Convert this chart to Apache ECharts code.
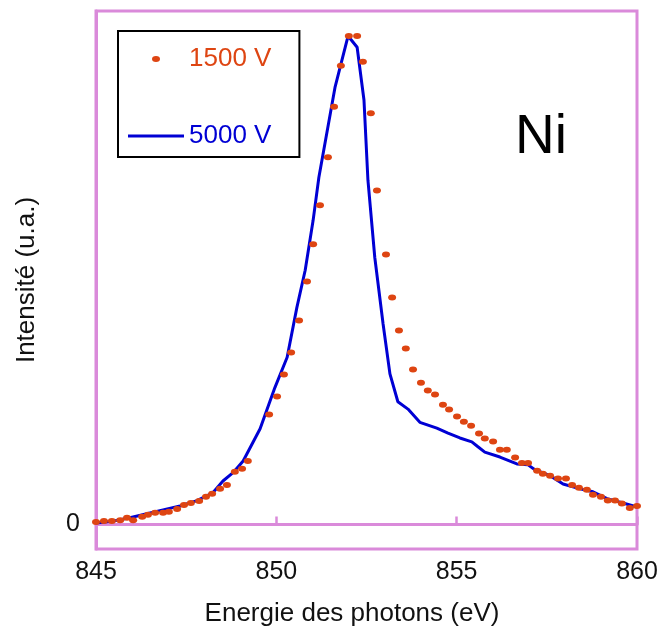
<!DOCTYPE html>
<html>
<head>
<meta charset="utf-8">
<script src="https://cdn.jsdelivr.net/npm/echarts@6/dist/echarts.min.js"></script>
<style>
  html, body { margin: 0; padding: 0; background: #ffffff; }
  #chart { width: 657px; height: 630px; }
</style>
</head>
<body>
<div id="chart"></div>
<script>
// Ni spectrum, two accelerating voltages (normalised intensity, arbitrary units)
const seriesNames = ['1500 V', '5000 V'];

const energy1500 = [
  845.00, 845.22, 845.44, 845.67, 845.86, 846.03, 846.28, 846.44, 846.64, 846.86,
  847.02, 847.25, 847.44, 847.63, 847.86, 848.05, 848.22, 848.44, 848.63, 848.85,
  849.05, 849.21, 849.80, 850.02, 850.21, 850.41, 850.63, 850.85, 851.02, 851.21,
  851.43, 851.60, 851.79, 852.01, 852.24, 852.40, 852.62, 852.79, 853.04, 853.21,
  853.40, 853.59, 853.79, 854.01, 854.20, 854.40, 854.62, 854.79, 855.01, 855.20,
  855.40, 855.62, 855.78, 856.01, 856.20, 856.39, 856.62, 856.81, 856.98, 857.23,
  857.39, 857.59, 857.81, 858.03, 858.20, 858.39, 858.61, 858.78, 859.00, 859.19,
  859.39, 859.58, 859.80, 860.00
];
const intensity1500 = [
  0.005, 0.007, 0.007, 0.009, 0.014, 0.009, 0.016, 0.020, 0.024, 0.024,
  0.026, 0.032, 0.040, 0.044, 0.048, 0.057, 0.063, 0.073, 0.081, 0.108,
  0.114, 0.130, 0.225, 0.262, 0.307, 0.352, 0.417, 0.497, 0.573, 0.653,
  0.751, 0.854, 0.938, 0.999, 0.999, 0.946, 0.841, 0.683, 0.552, 0.464,
  0.397, 0.360, 0.317, 0.290, 0.274, 0.266, 0.245, 0.235, 0.221, 0.210,
  0.202, 0.186, 0.176, 0.170, 0.153, 0.153, 0.137, 0.126, 0.126, 0.110,
  0.104, 0.100, 0.094, 0.094, 0.081, 0.075, 0.071, 0.061, 0.057, 0.049,
  0.049, 0.043, 0.034, 0.038
];

const energy5000 = [
  845.00, 845.47, 845.94, 846.41, 846.86, 847.33, 847.80, 848.24, 848.52, 848.80,
  849.08, 849.55, 849.96, 850.30, 850.57, 850.80, 851.02, 851.18, 851.63, 851.99,
  852.24, 852.43, 852.54, 852.73, 852.96, 853.15, 853.37, 853.65, 853.98, 854.45,
  854.76, 855.09, 855.42, 855.59, 855.78, 856.20, 856.67, 856.98, 857.17, 857.59,
  857.95, 858.42, 858.78, 859.17, 859.61, 860.00
];
const intensity5000 = [
  0.003, 0.007, 0.014, 0.022, 0.030, 0.038, 0.049, 0.065, 0.089, 0.106,
  0.130, 0.196, 0.280, 0.342, 0.444, 0.520, 0.622, 0.710, 0.895, 0.999,
  0.976, 0.868, 0.704, 0.546, 0.410, 0.308, 0.251, 0.236, 0.209, 0.197,
  0.187, 0.177, 0.169, 0.159, 0.148, 0.138, 0.124, 0.122, 0.112, 0.100,
  0.083, 0.073, 0.067, 0.053, 0.044, 0.036
];

const xTicks = [845, 850, 855, 860];
const yTicks = [0];

const FRAME = '#DA8ADA';
const ORANGE = '#DE4512';
const BLUE = '#0000D4';
const FONT = '"Liberation Sans", Arial, sans-serif';

const pairs = (xs, ys) => xs.map((x, i) => [x, ys[i]]);

const dotPath = 'path://M0,3A4,3,0,1,1,8,3A4,3,0,1,1,0,3Z';
const linePath = 'path://M0,0H54V3H0Z';

const chart = echarts.init(document.getElementById('chart'), null, { renderer: 'canvas' });

chart.setOption({
  backgroundColor: '#ffffff',
  animation: false,
  textStyle: { fontFamily: FONT },
  grid: {
    left: 96, right: 20, top: 11, bottom: 81,
    outerBoundsMode: 'none',
    containLabel: false,
    show: true, borderColor: FRAME, borderWidth: 3, backgroundColor: 'transparent'
  },
  legend: {
    orient: 'vertical',
    left: 118, top: 31,
    padding: [15, 28, 8, 10],
    itemGap: 51,
    itemWidth: 56, itemHeight: 6,
    borderColor: '#000000', borderWidth: 2, borderRadius: 0,
    backgroundColor: '#ffffff',
    selectedMode: false,
    textStyle: { fontSize: 26, fontFamily: FONT, lineHeight: 26 },
    data: [
      { name: seriesNames[0], icon: dotPath, textStyle: { color: ORANGE } },
      { name: seriesNames[1], icon: linePath, textStyle: { color: BLUE } }
    ]
  },
  xAxis: {
    type: 'value',
    min: 845, max: 860, interval: 5,
    name: 'Energie des photons (eV)',
    nameLocation: 'middle',
    nameGap: 52,
    nameTextStyle: { fontSize: 26, color: '#111111', fontFamily: FONT, padding: [0, 29, 0, 0] },
    axisLine: { show: true, lineStyle: { color: FRAME, width: 3 } },
    axisTick: { show: true, inside: true, length: 8, lineStyle: { color: FRAME, width: 2.5 }, customValues: xTicks },
    axisLabel: { fontSize: 25, color: '#111111', margin: 11, customValues: xTicks },
    splitLine: { show: false }
  },
  yAxis: {
    type: 'value',
    min: -0.05, max: 1.05,
    name: 'Intensité (u.a.)',
    nameLocation: 'middle',
    nameGap: 56,
    nameTextStyle: { fontSize: 26, color: '#111111', fontFamily: FONT },
    axisLine: { show: true, lineStyle: { color: FRAME, width: 3 } },
    axisTick: { show: true, inside: true, length: 12, lineStyle: { color: FRAME, width: 2.5 }, customValues: yTicks },
    axisLabel: { fontSize: 25, color: '#111111', margin: 16, customValues: yTicks },
    splitLine: { show: false }
  },
  graphic: [
    {
      type: 'text',
      left: 515, top: 110,
      style: { text: 'Ni', fontSize: 55, fill: '#000000', fontFamily: FONT }
    }
  ],
  series: [
    {
      name: seriesNames[1],
      type: 'line',
      data: pairs(energy5000, intensity5000),
      symbol: 'none',
      smooth: false,
      lineStyle: { color: BLUE, width: 3 },
      itemStyle: { color: BLUE },
      z: 2
    },
    {
      name: seriesNames[0],
      type: 'scatter',
      data: pairs(energy1500, intensity1500),
      symbol: dotPath,
      symbolSize: [8, 6],
      itemStyle: { color: ORANGE, opacity: 1 },
      z: 3
    }
  ]
});
</script>
</body>
</html>
